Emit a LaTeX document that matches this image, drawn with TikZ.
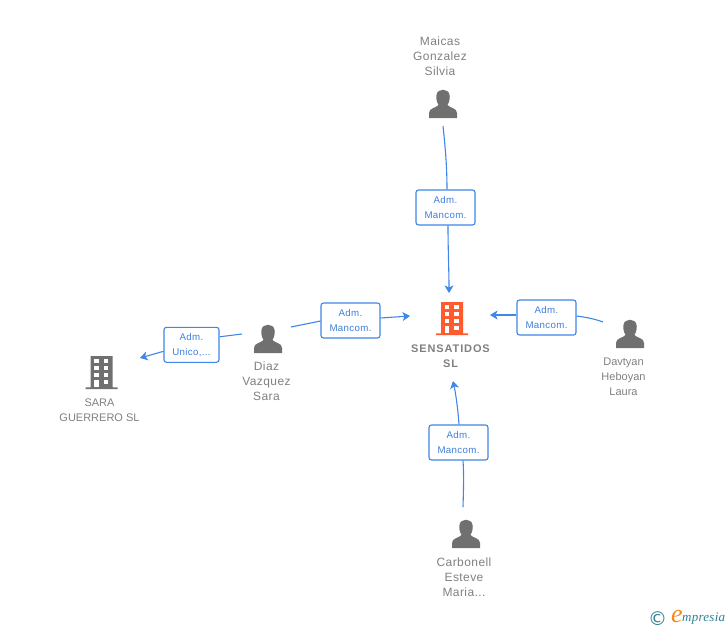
\documentclass[tikz,border=0pt]{standalone}
\usepackage{fontspec}
\setmainfont{Liberation Sans}
\newfontfamily\logofont{DejaVu Sans}
\newfontfamily\logoserif{Liberation Serif}
\newfontfamily\spacedfont[LetterSpace=3.5]{Liberation Sans}
\newfontfamily\widefont[LetterSpace=8]{Liberation Sans}
\newfontfamily\logospaced[LetterSpace=2]{Liberation Serif}
\definecolor{conn}{HTML}{3F86E6}
\definecolor{boxtxt}{HTML}{3F7FDC}
\definecolor{lab}{HTML}{808080}
\definecolor{icon}{HTML}{707070}
\definecolor{hot}{HTML}{FF5B2E}
\definecolor{teal}{HTML}{2F7F93}
\definecolor{orng}{HTML}{F08A1E}
\usetikzlibrary{arrows.meta}
\tikzset{
  lbl/.style={font=\spacedfont\fontsize{12}{15}\selectfont,text=lab,align=center,inner sep=0pt},
  lbln/.style={font=\fontsize{11}{15}\selectfont,text=lab,align=center,inner sep=0pt},
  lblb/.style={font=\widefont\fontsize{11}{15}\selectfont\bfseries,text=lab,align=center,inner sep=0pt},
  rel/.style={draw=conn,line width=1.1pt,rounded corners=2.5pt,fill=white,text=boxtxt,align=center,
     font=\spacedfont\fontsize{9.7}{15}\selectfont,inner sep=0pt,minimum height=35pt,
     execute at begin node={\rule{0pt}{9pt}}},
  link/.style={draw=conn,line width=1.1pt},
  arr/.style={link,-{Stealth[length=7.5pt,width=9pt,inset=2pt]}},
  person/.pic={
    \fill[icon,pic actions] (-14,14) -- (-14,9) .. controls (-14,4) and (-7,4) .. (-4.5,1)
      .. controls (-7,-3) and (-7,-8) .. (-6.5,-9) .. controls (-6,-16) and (6,-16) .. (6.5,-9)
      .. controls (7,-8) and (7,-3) .. (4.5,1) .. controls (7,4) and (14,4) .. (14,9) -- (14,14) -- cycle;
  },
  tower/.pic={
    \fill[pic actions] (-16,16.5) -- (-16,14.8) -- (-11,14.8) -- (-11,-16.5) -- (11,-16.5) -- (11,14.8) -- (16,14.8) -- (16,16.5) -- cycle;
    \foreach \yy in {-13.2,-6.2,0.2}{
      \fill[white] (-7.2,\yy) rectangle ++(4.5,4);
      \fill[white] (2.3,\yy) rectangle ++(4.5,4);
    }
    \fill[white] (2.3,7.2) rectangle ++(4.5,4);
    \fill[white] (-7.2,7.2) rectangle (-2.7,14.8);
  },
}
\begin{document}
\begin{tikzpicture}[x=1pt,y=-1pt]
\useasboundingbox (0,0) rectangle (728,630);
% icons
\pic[icon] at (443,104) {person};
\pic[icon] at (268,339) {person};
\pic[icon] at (630,334) {person};
\pic[icon] at (466,534) {person};
\pic[hot] at (452,318.5) {tower};
\pic[icon] at (101.5,372.5) {tower};
% labels
\node[lbl] (maicas) at (440,56) {Maicas\\Gonzalez\\Silvia};
\node[lbl] (diaz) at (266.5,381.5) {Diaz\\Vazquez\\Sara};
\node[lbln] (davtyan) at (623.5,376.5) {Davtyan\\Heboyan\\Laura};
\node[lbl] (carbonell) at (464,577) {Carbonell\\Esteve\\Maria...};
\node[lblb] (sens) at (450.5,356) {SENSATIDOS\\SL};
\node[lbln] (sara) at (99.5,410.5) {SARA\\GUERRERO SL};
% relation boxes
\node[rel,minimum width=59pt] (r1) at (445.5,207.5) {Adm.\\Mancom.};
\node[rel,minimum width=59pt] (r2) at (546.5,317.5) {Adm.\\Mancom.};
\node[rel,minimum width=59pt] (r3) at (458.5,442.5) {Adm.\\Mancom.};
\node[rel,minimum width=59pt] (r4) at (350.5,320.5) {Adm.\\Mancom.};
\node[rel,minimum width=55pt] (r5) at (191.5,344.8) {Adm.\\Unico,...};
% free ends
\coordinate (a1) at (443,126);
\coordinate (b1) at (449,293);
\coordinate (a2) at (603,322);
\coordinate (b2) at (490,315);
\coordinate (a3) at (463,507);
\coordinate (b3) at (453,381);
\coordinate (a4) at (291,327);
\coordinate (b4) at (410,316);
\coordinate (a5) at (242,334);
\coordinate (b5) at (140,358);
% connectors
\draw[link] (a1) .. controls (445,145) and (447,165) .. ([xshift=1.5pt]r1.north);
\draw[arr] ([xshift=2.5pt]r1.south) .. controls (448,250) and (449,270) .. (b1);
\draw[link] (a2) .. controls (595,319) and (585,317) .. ([yshift=1.5pt]r2.east);
\draw[arr] ([yshift=2.5pt]r2.west) -- (b2);
\draw[link] (a3) .. controls (463.5,490) and (464,475) .. ([xshift=4.5pt]r3.south);
\draw[arr] ([xshift=0.5pt]r3.north) .. controls (458,410) and (456,395) .. (b3);
\draw[link] (a4) -- ([yshift=-0.5pt]r4.west);
\draw[arr] ([yshift=2.5pt]r4.east) -- (b4);
\draw[link] (a5) -- ([yshift=8pt]r5.east);
\draw[arr] ([yshift=-6.5pt]r5.west) -- (b5);
% logo
\node[inner sep=0pt,font=\logofont\fontsize{19}{19}\selectfont,text=teal] (copyr) at (657.5,618.5) {©};
\node[inner sep=0pt,font=\logoserif\fontsize{26}{26}\selectfont\itshape,text=orng] (elogo) at (677,616) {e};
\node[inner sep=0pt,font=\logospaced\fontsize{13}{13}\selectfont\itshape,text=teal,anchor=west] (mpresia) at (682,619) {mpresia};
\end{tikzpicture}
\end{document}
